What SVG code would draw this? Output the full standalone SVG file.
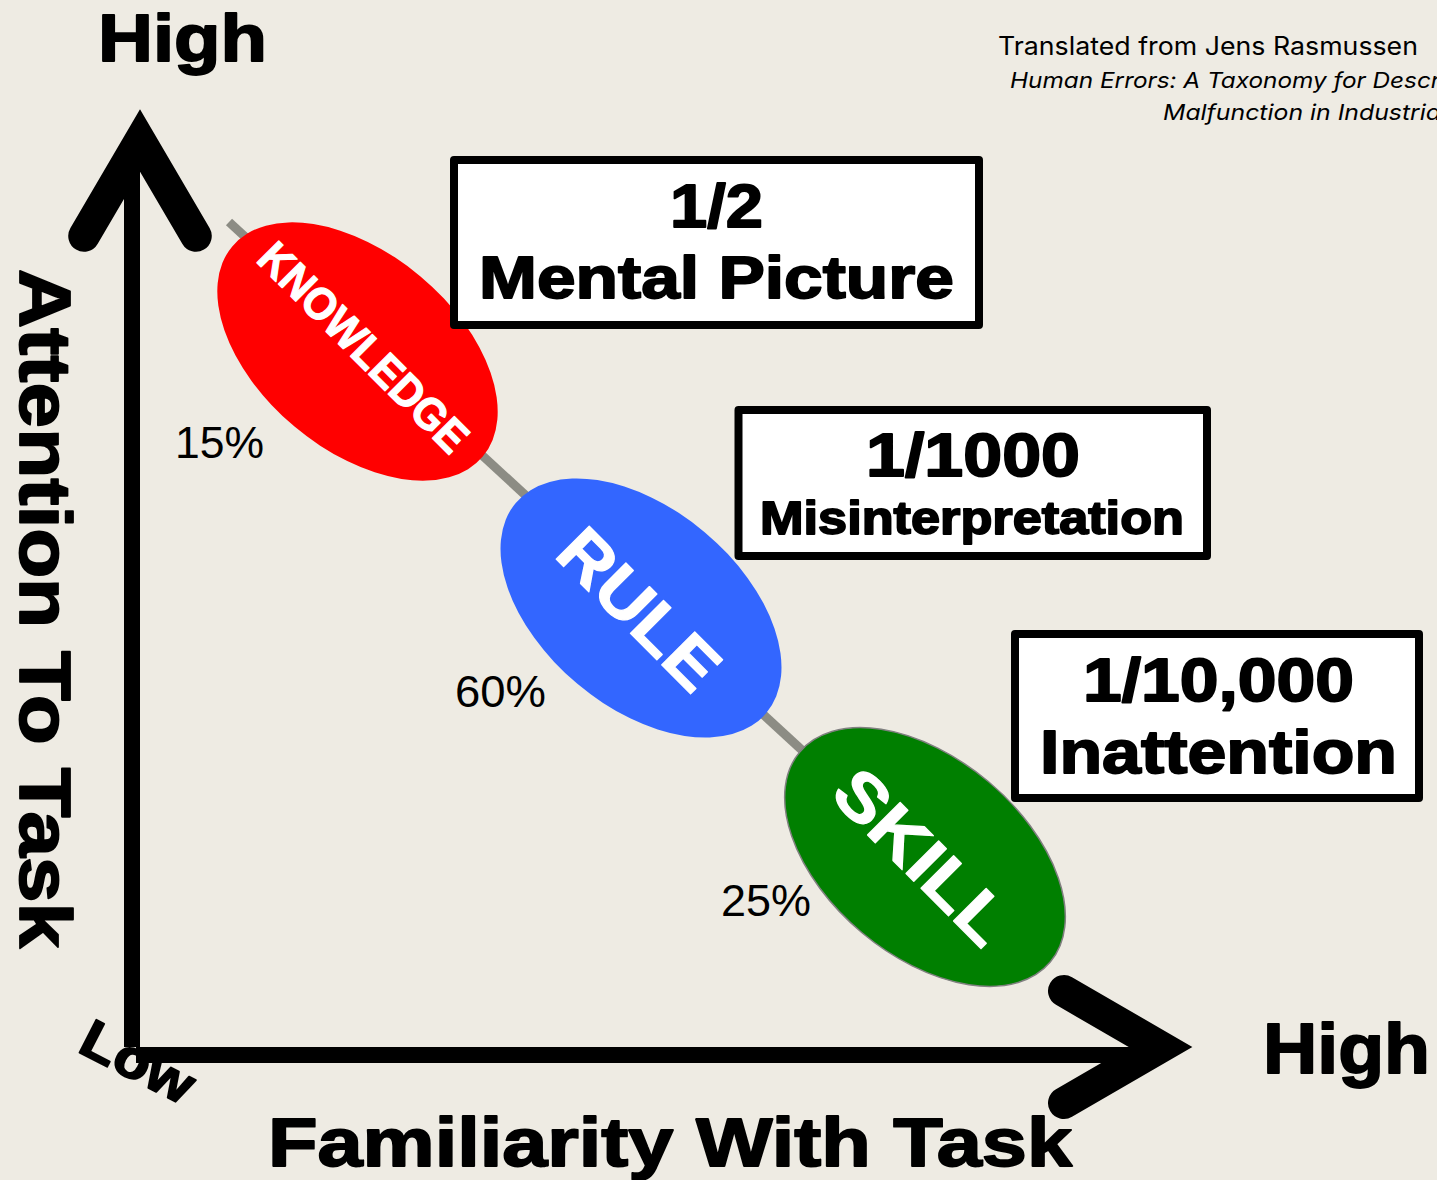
<svg xmlns="http://www.w3.org/2000/svg" width="1437" height="1180" viewBox="0 0 1437 1180">
  <defs>
    <style>
      .heavy{font-family:"Liberation Sans",Arial,Helvetica,sans-serif;font-weight:700;fill:#000;stroke:#000;stroke-width:1.8px;stroke-linejoin:round}
      .mid{text-anchor:middle}
      .inv{font-family:"Liberation Sans",Arial,Helvetica,sans-serif;font-weight:700;fill:#fff;stroke:#fff;stroke-width:1.2px;stroke-linejoin:round;text-anchor:middle}
      .pct{font-family:"Liberation Sans",Arial,Helvetica,sans-serif;font-size:44px;fill:#000}
      .cite{font-family:Inter,"Noto Sans",sans-serif;fill:#000}
      .box{fill:#fff;stroke:#000;stroke-width:8;stroke-linejoin:round}
      .axis{stroke:#000;fill:none}
      .chev{stroke:#000;fill:none;stroke-linecap:round;stroke-linejoin:miter;stroke-miterlimit:4}
    </style>
  </defs>

  <!-- page -->
  <rect width="1437" height="1180" fill="#EEEBE3"/>

  <!-- citation -->
  <g id="citation">
    <text class="cite" x="998" y="55" font-size="25" textLength="420" lengthAdjust="spacingAndGlyphs">Translated from Jens Rasmussen</text>
    <text class="cite" x="1010" y="88" font-size="22" font-style="italic" textLength="430" lengthAdjust="spacingAndGlyphs">Human Errors: A Taxonomy for Descr</text>
    <text class="cite" x="1163" y="120" font-size="22" font-style="italic" textLength="278" lengthAdjust="spacingAndGlyphs">Malfunction in Industria</text>
  </g>

  <!-- axes -->
  <g id="axes">
    <path class="axis" d="M132,160 V1047" stroke-width="16"/>
    <path class="axis" d="M136,1055 H1165" stroke-width="16"/>
    <path class="chev" d="M84,236 L140,140.5 L196,236" stroke-width="31.5"/>
    <path class="chev" d="M1064,991 L1160.5,1047 L1064,1103" stroke-width="32"/>
    <text class="heavy" x="98" y="61" font-size="67" textLength="169" lengthAdjust="spacingAndGlyphs">High</text>
    <text class="heavy" x="1263" y="1073" font-size="70" textLength="167" lengthAdjust="spacingAndGlyphs">High</text>
    <text class="heavy" x="268" y="1166" font-size="68" textLength="804" lengthAdjust="spacingAndGlyphs">Familiarity With Task</text>
    <text class="heavy" transform="translate(20,269) rotate(90)" x="0" y="0" font-size="72" textLength="679" lengthAdjust="spacingAndGlyphs">Attention To Task</text>
    <text class="heavy" transform="translate(76,1051) rotate(27)" x="0" y="0" font-size="54" textLength="120" lengthAdjust="spacingAndGlyphs">Low</text>
  </g>

  <!-- connector through the three levels -->
  <g id="connectors">
    <path d="M229,222 L925,863.5" stroke="#8C8C84" stroke-width="9" fill="none"/>
  </g>

  <!-- performance levels -->
  <g id="knowledge">
    <ellipse cx="0" cy="0" rx="163.5" ry="98" transform="translate(357.5,351.5) rotate(40)" fill="#FF0000"/>
    <text class="inv" transform="translate(364,347) rotate(45)" x="0" y="16" font-size="45" textLength="276" lengthAdjust="spacingAndGlyphs">KNOWLEDGE</text>
    <text class="pct" x="175" y="458" textLength="89" lengthAdjust="spacingAndGlyphs">15%</text>
  </g>

  <g id="rule">
    <ellipse cx="0" cy="0" rx="163.5" ry="99" transform="translate(641,608) rotate(40)" fill="#3366FF"/>
    <text class="inv" transform="translate(640,608.5) rotate(45)" x="0" y="24.5" font-size="68" textLength="198" lengthAdjust="spacingAndGlyphs">RULE</text>
    <text class="pct" x="455" y="707" textLength="91" lengthAdjust="spacingAndGlyphs">60%</text>
  </g>

  <g id="skill">
    <ellipse cx="0" cy="0" rx="163.5" ry="98.5" transform="translate(925,857) rotate(40)" fill="#007F00" stroke="#808080" stroke-width="1.5"/>
    <text class="inv" transform="translate(922.5,856) rotate(45)" x="0" y="24" font-size="67" textLength="218" lengthAdjust="spacingAndGlyphs">SKILL</text>
    <text class="pct" x="721" y="916" textLength="90" lengthAdjust="spacingAndGlyphs">25%</text>
  </g>

  <!-- error rates -->
  <g id="rate-knowledge">
    <rect class="box" x="454" y="160" width="525" height="165"/>
    <text class="heavy mid" x="716.5" y="227" font-size="62" textLength="93" lengthAdjust="spacingAndGlyphs">1/2</text>
    <text class="heavy mid" x="716.5" y="298" font-size="59" textLength="475" lengthAdjust="spacingAndGlyphs">Mental Picture</text>
  </g>

  <g id="rate-rule">
    <rect class="box" x="738.5" y="410" width="468.5" height="146"/>
    <text class="heavy mid" x="973" y="476" font-size="61" textLength="214" lengthAdjust="spacingAndGlyphs">1/1000</text>
    <text class="heavy mid" x="972" y="534" font-size="47" textLength="424" lengthAdjust="spacingAndGlyphs">Misinterpretation</text>
  </g>

  <g id="rate-skill">
    <rect class="box" x="1015" y="634" width="404" height="164"/>
    <text class="heavy mid" x="1218.5" y="701" font-size="61" textLength="271" lengthAdjust="spacingAndGlyphs">1/10,000</text>
    <text class="heavy mid" x="1218.5" y="773" font-size="61" textLength="357" lengthAdjust="spacingAndGlyphs">Inattention</text>
  </g>
</svg>
